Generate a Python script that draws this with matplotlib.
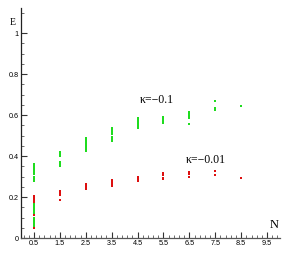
import matplotlib
matplotlib.use("Agg")
import matplotlib.pyplot as plt

# Data
n_values = [0.5, 1.5, 2.5, 3.5, 4.5, 5.5, 6.5, 7.5, 8.5]
green_levels = [
    [0.36, 0.35, 0.34, 0.33, 0.32, 0.31, 0.30, 0.29, 0.28,
     0.17, 0.16, 0.15, 0.14, 0.13, 0.12, 0.11, 0.10, 0.09, 0.08, 0.07, 0.06, 0.055],
    [0.42, 0.41, 0.40, 0.37, 0.36, 0.35],
    [0.49, 0.48, 0.47, 0.46, 0.45, 0.44, 0.43, 0.425],
    [0.535, 0.525, 0.515, 0.505, 0.495, 0.485, 0.475],
    [0.585, 0.575, 0.565, 0.555, 0.545, 0.535],
    [0.59, 0.58, 0.57, 0.56],
    [0.615, 0.605, 0.595, 0.585, 0.555],
    [0.67, 0.635, 0.625],
    [0.645],
]
red_levels = [
    [0.205, 0.195, 0.185, 0.175, 0.11, 0.05],
    [0.23, 0.22, 0.21, 0.185],
    [0.265, 0.255, 0.245, 0.24],
    [0.285, 0.275, 0.265, 0.255],
    [0.30, 0.29, 0.28],
    [0.315, 0.305, 0.295, 0.29],
    [0.32, 0.31, 0.30],
    [0.325, 0.305],
    [0.295],
]
label_green = "κ=−0.1"
label_red = "κ=−0.01"
xtick_labels = ["0.5", "1.5", "2.5", "3.5", "4.5", "5.5", "6.5", "7.5", "8.5", "9.5"]
ytick_labels = ["0", "0.2", "0.4", "0.6", "0.8", "1"]

fig = plt.figure(figsize=(2.89, 2.57), dpi=100)
ax = fig.add_axes([0.0727, 0.0739, 0.8963, 0.895])

green = "#1fdc1f"
red = "#dd1010"
for n, levels in zip(n_values, green_levels):
    ax.plot([n] * len(levels), levels, ls="none", marker="s", ms=1.8, mew=0, color=green)
for n, levels in zip(n_values, red_levels):
    ax.plot([n] * len(levels), levels, ls="none", marker="s", ms=1.8, mew=0, color=red)

ax.set_xlim(0, 10)
ax.set_ylim(0, 1.122)

for s in ["top", "right"]:
    ax.spines[s].set_visible(False)
ax.spines["left"].set_color("#222222")
ax.spines["bottom"].set_color("#555555")
for s in ["left", "bottom"]:
    ax.spines[s].set_linewidth(0.9)

xt = [float(t) for t in xtick_labels]
ax.set_xticks(xt)
ax.set_xticklabels(xtick_labels, fontsize=5.2, family="Liberation Sans")
ax.set_xticks([0.1 + 0.2 * i for i in range(50) if abs((0.1 + 0.2 * i) % 1 - 0.5) > 0.05], minor=True)
yt = [float(t) for t in ytick_labels]
ax.set_yticks(yt)
ax.set_yticklabels(ytick_labels, fontsize=5.2, family="Liberation Sans")
ax.set_yticks([0.05 * i for i in range(23) if i % 4 != 0 and i != 21], minor=True)

ax.tick_params(axis="both", which="major", direction="in", length=4, width=0.8, pad=1.5, color="#333333")
ax.tick_params(axis="both", which="minor", direction="in", length=2.2, width=0.6, color="#555555")

ax.text(-0.2, 1.05, "E", fontsize=7, family="Liberation Serif", ha="right", va="center")
ax.text(9.95, 0.035, "N", fontsize=9, family="Liberation Serif", ha="right", va="bottom")
ax.text(4.6, 0.673, label_green, fontsize=8.5, family="Liberation Serif", ha="left", va="center")
ax.text(6.35, 0.38, label_red, fontsize=8.5, family="Liberation Serif", ha="left", va="center")

fig.savefig("out.png", dpi=100)
